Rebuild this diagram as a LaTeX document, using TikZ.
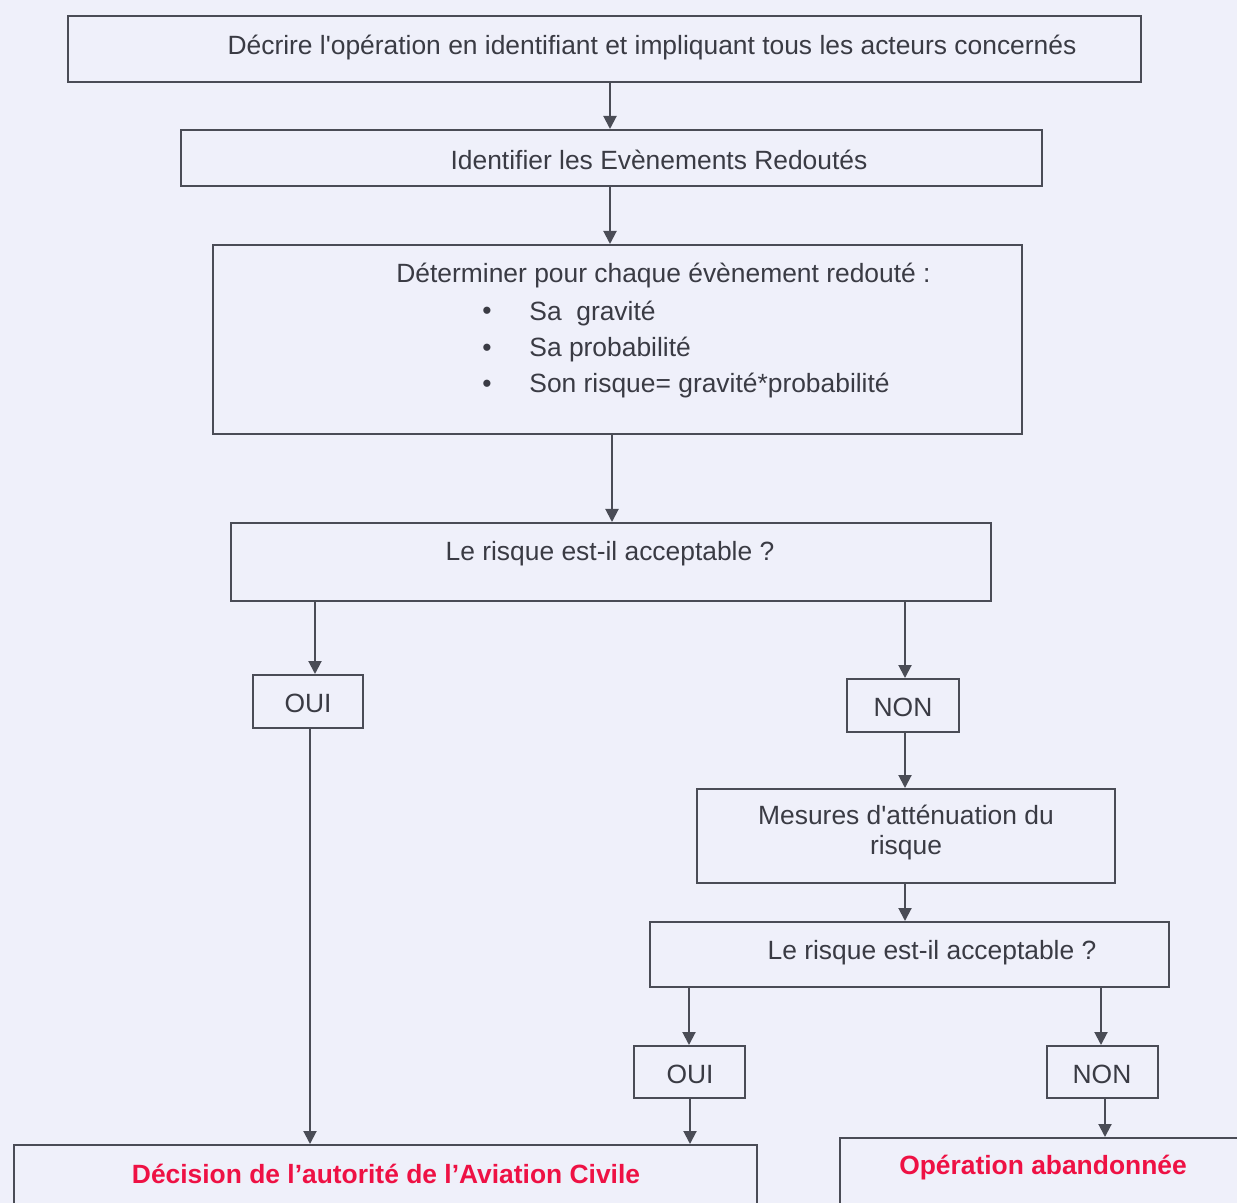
\documentclass[tikz,border=0pt]{standalone}
\usepackage{fontspec}
\setmainfont{Liberation Sans}
\usetikzlibrary{fit,arrows.meta}
\definecolor{bgc}{HTML}{EFF0FA}
\definecolor{linec}{HTML}{4A4C56}
\definecolor{txtc}{HTML}{3A3B44}
\definecolor{redc}{HTML}{EE1144}
\tikzset{
  box/.style={draw=linec, line width=1pt, inner sep=0pt, rectangle},
  lbl/.style={text=txtc, font=\fontsize{13.2}{15}\selectfont, inner sep=0pt, yshift=-1.3pt},
  redlbl/.style={text=redc, font=\fontsize{13.2}{15}\selectfont\bfseries, inner sep=0pt, yshift=-1.3pt},
  conn/.style={draw=linec, line width=1pt, -{Triangle[width=6.5pt,length=6.5pt]}}
}
\begin{document}
\begin{tikzpicture}[x=0.5pt,y=-0.5pt]
\useasboundingbox (0,0) rectangle (1237,1203);
\fill[bgc] (0,0) rectangle (1237,1203);
\clip (0,0) rectangle (1237,1203);
% boxes
\node[box, fit={(68,16) (1141,82)}] (b1) {};
\node[box, fit={(181,130) (1042,186)}] (b2) {};
\node[box, fit={(213,245) (1022,434)}] (b3) {};
\node[box, fit={(231,523) (991,601)}] (b4) {};
\node[box, fit={(253,675) (363,728)}] (oui1) {};
\node[box, fit={(847,679) (959,732)}] (non1) {};
\node[box, fit={(697,789) (1115,883)}] (mes) {};
\node[box, fit={(650,922) (1169,987)}] (b8) {};
\node[box, fit={(634,1046) (745,1098)}] (oui2) {};
\node[box, fit={(1047,1046) (1158,1098)}] (non2) {};
\node[box, fit={(14,1145) (757,1240)}] (dec) {};
\node[box, fit={(840,1138) (1260,1240)}] (aban) {};
% texts
\node[lbl] (t1) at (652,45) {Décrire l\textquotesingle opération en identifiant et impliquant tous les acteurs concernés};
\node[lbl] (t2) at (659,157) {Identifier les Evènements Redoutés};
\node[lbl, anchor=west] (t3) at (396,273) {Déterminer pour chaque évènement redouté :};
\node[lbl] (bu1) at (487,311) {•};
\node[lbl] (bu2) at (487,348) {•};
\node[lbl] (bu3) at (487,384) {•};
\node[lbl, anchor=west] (i1) at (529,311) {Sa\ \ gravité};
\node[lbl, anchor=west] (i2) at (529,347) {Sa probabilité};
\node[lbl, anchor=west] (i3) at (529,383) {Son risque= gravité*probabilité};
\node[lbl] (t4) at (610,551) {Le risque est-il acceptable ?};
\node[lbl] (to1) at (308,701) {OUI};
\node[lbl] (tn1) at (903,705) {NON};
\node[lbl, align=center, font=\fontsize{13.2}{15}\selectfont] (tm) at (906,830) {Mesures d\textquotesingle atténuation du\\risque};
\node[lbl] (t8) at (932,950) {Le risque est-il acceptable ?};
\node[lbl] (to2) at (690,1072) {OUI};
\node[lbl] (tn2) at (1102,1072) {NON};
\node[redlbl] (td) at (386,1171) {Décision de l’autorité de l’Aviation Civile};
\node[redlbl] (ta) at (1043,1165) {Opération abandonnée};
% connectors
\draw[conn] (b1.south -| 610,0) -- (b2.north -| 610,0);
\draw[conn] (b2.south -| 610,0) -- (b3.north -| 610,0);
\draw[conn] (b3.south -| 612,0) -- (b4.north -| 612,0);
\draw[conn] (b4.south -| 315,0) -- (oui1.north -| 315,0);
\draw[conn] (b4.south -| 905,0) -- (non1.north -| 905,0);
\draw[conn] (oui1.south -| 310,0) -- (dec.north -| 310,0);
\draw[conn] (non1.south -| 905,0) -- (mes.north -| 905,0);
\draw[conn] (mes.south -| 905,0) -- (b8.north -| 905,0);
\draw[conn] (b8.south -| 689,0) -- (oui2.north -| 689,0);
\draw[conn] (b8.south -| 1101,0) -- (non2.north -| 1101,0);
\draw[conn] (oui2.south -| 690,0) -- (dec.north -| 690,0);
\draw[conn] (non2.south -| 1105,0) -- (aban.north -| 1105,0);
\end{tikzpicture}
\end{document}
